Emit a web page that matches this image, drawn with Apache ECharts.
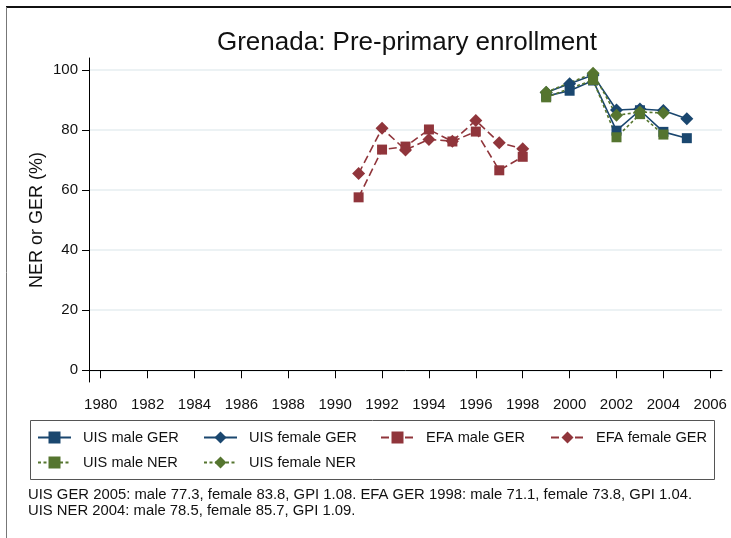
<!DOCTYPE html>
<html>
<head>
<meta charset="utf-8">
<script src="https://cdn.jsdelivr.net/npm/echarts@6/dist/echarts.min.js"></script>
<style>
html,body{margin:0;padding:0;background:#fff;}
#chart{width:731px;height:538px;}
</style>
</head>
<body>
<div id="chart"></div>
<script>
// ---- Data ----
const titleText = 'Grenada: Pre-primary enrollment';
const yAxisTitle = 'NER or GER (%)';
const xTickLabels = [1980,1982,1984,1986,1988,1990,1992,1994,1996,1998,2000,2002,2004,2006];
const yTickLabels = [0,20,40,60,80,100];

const efaYears = [1991,1992,1993,1994,1995,1996,1997,1998];
const efaMaleGER   = [57.6,73.5,74.5,80.2,76.2,79.5,66.6,71.1];
const efaFemaleGER = [65.5,80.6,73.4,76.9,76.3,83.2,75.8,73.8];

const uisYears = [1999,2000,2001,2002,2003,2004,2005];
const uisMaleGER   = [91.3,93.1,96.5,79.8,86.6,79.4,77.3];
const uisFemaleGER = [92.5,95.4,98.3,86.7,87.0,86.5,83.8];
const uisMaleNER   = [90.9,null,96.7,77.6,85.3,78.5,null];
const uisFemaleNER = [92.6,null,98.9,84.9,86.0,85.7,null];

const footnotes = [
  'UIS GER 2005: male 77.3, female 83.8, GPI 1.08. EFA GER 1998: male 71.1, female 73.8, GPI 1.04.',
  'UIS NER 2004: male 78.5, female 85.7, GPI 1.09.'
];

// ---- Styles ----
const FONT = '"Liberation Sans", Arial, Helvetica, sans-serif';
const NAVY = '#1a476f', MAROON = '#90353b', GREEN = '#55752f';

function pairs(xs, ys){ return xs.map((x,i)=>[x, ys[i]]); }

function mkSeries(name, years, vals, color, symbol, dash){
  return {
    name: name, type: 'line',
    data: pairs(years, vals),
    connectNulls: true,
    symbol: symbol,
    symbolSize: symbol === 'rect' ? 10 : [13,13],
    itemStyle: {color: color},
    lineStyle: {color: color, width: 1.6, type: dash},
    emphasis: {disabled: true},
    z: 2
  };
}

const series = [
  mkSeries('UIS male GER', uisYears, uisMaleGER, NAVY, 'rect', 'solid'),
  mkSeries('UIS female GER', uisYears, uisFemaleGER, NAVY, 'diamond', 'solid'),
  mkSeries('EFA male GER', efaYears, efaMaleGER, MAROON, 'rect', [8,4]),
  mkSeries('EFA female GER', efaYears, efaFemaleGER, MAROON, 'diamond', [8,4]),
  mkSeries('UIS male NER', uisYears, uisMaleNER, GREEN, 'rect', [3,2.5]),
  mkSeries('UIS female NER', uisYears, uisFemaleNER, GREEN, 'diamond', [3,2.5])
];

const legendPos = [
  ['UIS male GER', 37, 430], ['UIS female GER', 203, 430],
  ['EFA male GER', 380, 430], ['EFA female GER', 550, 430],
  ['UIS male NER', 37, 455], ['UIS female NER', 203, 455]
];
const legends = legendPos.map(([n,x,y]) => ({
  data: [n], left: x, top: y, padding: 0,
  itemWidth: 33, itemHeight: 15,
  selectedMode: false,
  textStyle: {fontFamily: FONT, fontSize: 14.6, color: '#111', padding: [0,0,0,7], lineHeight: 15}
}));

const chart = echarts.init(document.getElementById('chart'), null, {renderer: 'canvas'});
chart.setOption({
  animation: false,
  backgroundColor: '#fff',
  grid: {left: 89, right: 9, top: 58, bottom: 156, containLabel: false},
  xAxis: {
    type: 'value', min: 1979.5, max: 2006.5,
    axisLine: {show: true, lineStyle: {color: '#000', width: 1}},
    axisTick: {show: true, length: 8, lineStyle: {color: '#000'}, customValues: xTickLabels},
    axisLabel: {customValues: xTickLabels, fontFamily: FONT, fontSize: 15, color: '#111', margin: 15,
                formatter: v => String(v)},
    splitLine: {show: false}
  },
  yAxis: {
    type: 'value', min: -3.9, max: 104,
    axisLine: {show: true, lineStyle: {color: '#000', width: 1}},
    axisTick: {show: true, length: 7, lineStyle: {color: '#000'}, customValues: yTickLabels},
    axisLabel: {customValues: yTickLabels, fontFamily: FONT, fontSize: 15, color: '#111', margin: 11},
    splitLine: {show: true, lineStyle: {color: '#e6eef1', width: 1.5}}
  },
  legend: legends,
  series: series,
  graphic: [
    {type: 'line', shape: {x1: 6, y1: 7, x2: 731, y2: 7}, style: {stroke: '#111', lineWidth: 2}, silent: true},
    {type: 'line', shape: {x1: 6.5, y1: 7, x2: 6.5, y2: 538}, style: {stroke: '#777', lineWidth: 1}, silent: true},
    {type: 'rect', shape: {x: 30.5, y: 420.5, width: 684, height: 59}, style: {fill: 'none', stroke: '#555', lineWidth: 1}, silent: true, z: -1},
    {type: 'text', x: 407, y: 43, style: {text: titleText, font: '26px ' + FONT, fill: '#111', textAlign: 'center', textVerticalAlign: 'middle'}, silent: true},
    {type: 'text', x: 37, y: 220, rotation: Math.PI / 2, style: {text: yAxisTitle, font: '18px ' + FONT, fill: '#111', textAlign: 'center', textVerticalAlign: 'middle'}, silent: true},
    {type: 'text', x: 28, y: 495, scaleX: 1.06, style: {text: footnotes[0], font: '14px ' + FONT, fill: '#111', textAlign: 'left', textVerticalAlign: 'middle'}, silent: true},
    {type: 'text', x: 28, y: 511, scaleX: 1.06, style: {text: footnotes[1], font: '14px ' + FONT, fill: '#111', textAlign: 'left', textVerticalAlign: 'middle'}, silent: true}
  ]
});
</script>
</body>
</html>
